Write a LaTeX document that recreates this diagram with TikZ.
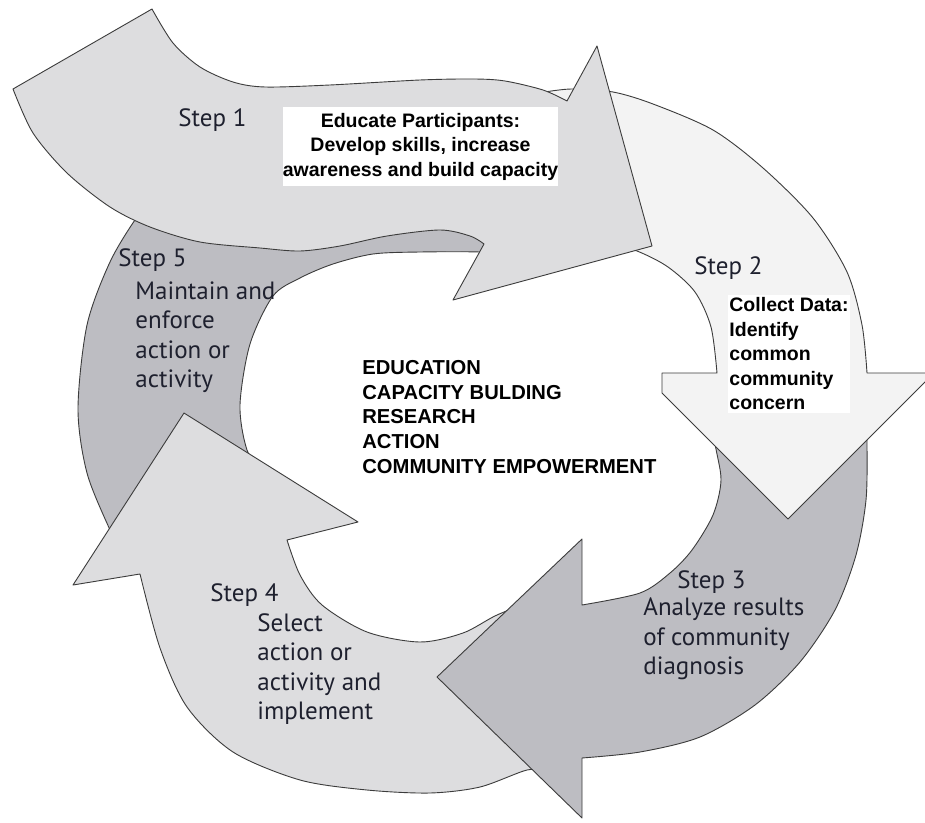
\documentclass[tikz,border=0pt]{standalone}
\usepackage{fontspec}
\setmainfont{PT Sans}
\newfontfamily\boxfont{Liberation Sans}
\definecolor{paleColor}{RGB}{243,243,243}
\definecolor{lightColor}{RGB}{221,221,223}
\definecolor{darkColor}{RGB}{189,189,194}
\definecolor{edgeColor}{RGB}{60,60,60}
\definecolor{labelColor}{RGB}{30,32,46}

\begin{document}
\begin{tikzpicture}[x=0.5pt, y=-0.5pt,
  band/.style={draw=edgeColor, line width=0.45pt, line join=round},
  steplabel/.style={inner sep=0pt, anchor=west, text=labelColor, font=\fontsize{12.5}{14.75}\selectfont},
  steptext/.style={steplabel, align=left},
  boxtext/.style={inner sep=0pt, font=\boxfont\bfseries\fontsize{9.75}{12.25}\selectfont}]
  \fill[white] (0,0) rectangle (925,823);
  \useasboundingbox (0,0) rectangle (925,823);

  % step 5
  \filldraw[band, fill=darkColor] (520,150) -- (400,160) -- (250,165) -- plot[smooth] coordinates {(160,190) (137,217) (110,262) (87,325) (78,409) (87,473) (110,530) (125,560)} -- (265,480) -- plot[smooth] coordinates {(265,480) (247,450) (240,405) (250,344) (273,296) (300,278) (333,264) (373,254) (420,252) (480,252) (520,255)} -- cycle;
  % step 4
  \filldraw[band, fill=lightColor] (184,413) -- (358,522) -- (287,540) -- plot[smooth] coordinates {(287,540) (300,575) (322,605) (367,632) (420,642) (463,633) (497,615) (540,598)} -- (545,772) -- plot[smooth] coordinates {(545,772) (527,770) (480,787) (430,793) (367,790) (300,780) (233,752) (187,707) (160,648) (140,574)} -- (73,585) -- cycle;
  % step 3
  \filldraw[band, fill=darkColor] (712,405) -- (866,405) -- plot[smooth] coordinates {(866,405) (867,443) (866,500) (856,555) (835,610) (800,662) (755,705) (700,737) (640,752) (582,758)} -- (582,818) -- (437,677) -- (582,539) -- (582,605) -- plot[smooth] coordinates {(582,605) (640,593) (670,573) (692,550) (713,515) (721,480) (715,443) (712,405)} -- cycle;
  % step 2
  \filldraw[band, fill=paleColor] (545,92) -- plot[smooth] coordinates {(545,92) (572,89) (613,92) (653,104) (713,130) (763,168) (813,218) (847,272) (862,325) (867,373)} -- (934,373) -- (788,519) -- (662,393) -- (662,373) -- (717,373) -- plot[smooth] coordinates {(717,373) (711,327) (695,292) (668,267) (637,251) (600,240)} -- cycle;
  % step 1
  \filldraw[band, fill=lightColor] plot[smooth] coordinates {(152,9) (173,43) (200,67) (233,82) (265,87) (330,85) (420,80) (474,79) (505,81) (543,90) (567,101)} -- (597,46) -- (652,246) -- (453,300) -- (484,244) -- plot[smooth] coordinates {(484,244) (470,236) (440,230) (387,236) (340,246) (300,251) (260,248) (200,242) (150,227) (110,207) (67,173) (33,133) (13,89)} -- cycle;

  \node[steplabel] (step1) at (178,120) {Step 1};
  \node[boxtext, fill=white, align=center, minimum width=136.5pt, minimum height=39.5pt] (educate) at (420.5,146.5) {Educate Participants:\\Develop skills, increase\\awareness and build capacity};
  \node[steplabel] (step2) at (694,268) {Step 2};
  \node[boxtext, fill=white, align=left, minimum width=61pt, minimum height=59pt] (collect) at (789,354) {Collect Data:\\Identify\\common\\community\\concern};
  \node[steplabel] (step3) at (677,582) {Step 3};
  \node[steptext] (analyze) at (643,639) {Analyze results\\of community\\diagnosis};
  \node[steplabel] (step4) at (210,595) {Step 4};
  \node[steptext] (select) at (257,669) {Select\\action or\\activity and\\implement};
  \node[steplabel] (step5) at (118,260) {Step 5};
  \node[steptext] (maintain) at (135,337) {Maintain and\\enforce\\action or\\activity};
  \node[boxtext, anchor=west, align=left, font=\boxfont\bfseries\fontsize{10.1}{12.4}\selectfont] (themes) at (362,417) {EDUCATION\\CAPACITY BULDING\\RESEARCH\\ACTION\\COMMUNITY EMPOWERMENT};
\end{tikzpicture}
\end{document}
